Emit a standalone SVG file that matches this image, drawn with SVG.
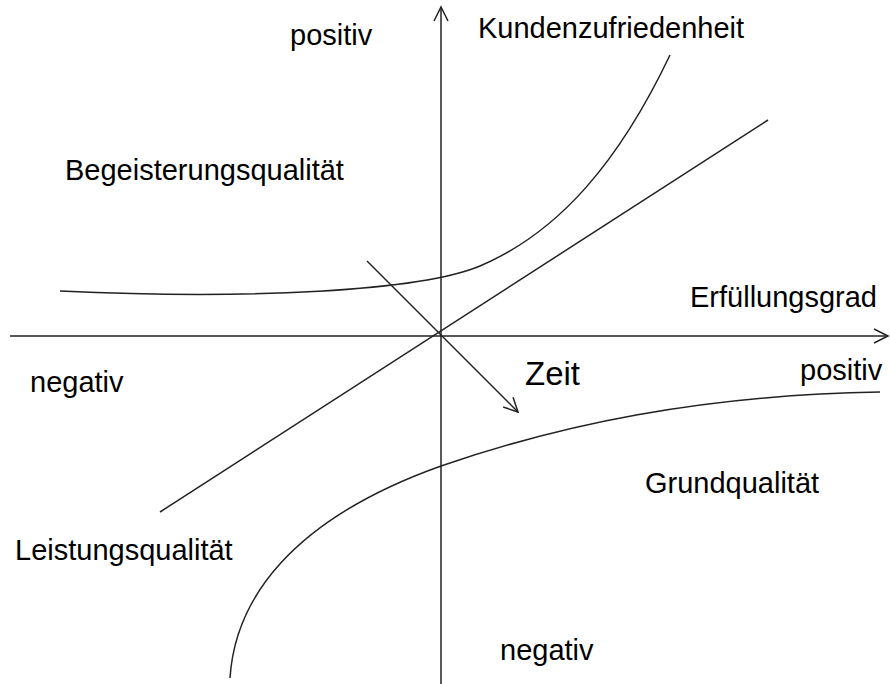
<svg xmlns="http://www.w3.org/2000/svg" width="890" height="684" viewBox="0 0 890 684">
<style>
.t{font-family:"Liberation Sans",Arial,sans-serif;font-size:29px;fill:#000}
.ln{fill:none;stroke:#222;stroke-width:1.5}
</style>
<defs>
<marker id="arr" markerUnits="userSpaceOnUse" markerWidth="20" markerHeight="20" viewBox="-16 -10 20 20" refX="0" refY="0" orient="auto">
<path d="M-14,-7 L0,0 L-14,7" fill="none" stroke="#222" stroke-width="1.5"/>
</marker>
</defs>
<rect width="890" height="684" fill="#fff"/>
<g id="connectors">
<line class="ln" x1="441" y1="684" x2="441" y2="7" marker-end="url(#arr)"/>
<line class="ln" x1="10" y1="336" x2="888" y2="336" marker-end="url(#arr)"/>
<line class="ln" x1="367" y1="261" x2="518" y2="412" marker-end="url(#arr)"/>
</g>
<g id="kundenzufriedenheit-curve">
<path class="ln" d="M60,291 C250,300 420,291 480,266 C560,232 620,160 670,55"/>
</g>
<g id="leistung-line">
<line class="ln" x1="160" y1="512" x2="768" y2="120"/>
</g>
<g id="grund-curve">
<path class="ln" d="M230,678 C235,600 290,520 441,466 C560,425 700,395 880,392"/>
</g>
<g id="labels">
<text class="t" x="290" y="45">positiv</text>
<text class="t" x="478" y="38">Kundenzufriedenheit</text>
<text class="t" x="65" y="180">Begeisterungsqualität</text>
<text class="t" x="690" y="307">Erfüllungsgrad</text>
<text class="t" x="30" y="392">negativ</text>
<text class="t" x="525" y="385" style="font-size:33px">Zeit</text>
<text class="t" x="800" y="380">positiv</text>
<text class="t" x="645" y="493">Grundqualität</text>
<text class="t" x="15" y="560">Leistungsqualität</text>
<text class="t" x="500" y="660">negativ</text>
</g>
</svg>
